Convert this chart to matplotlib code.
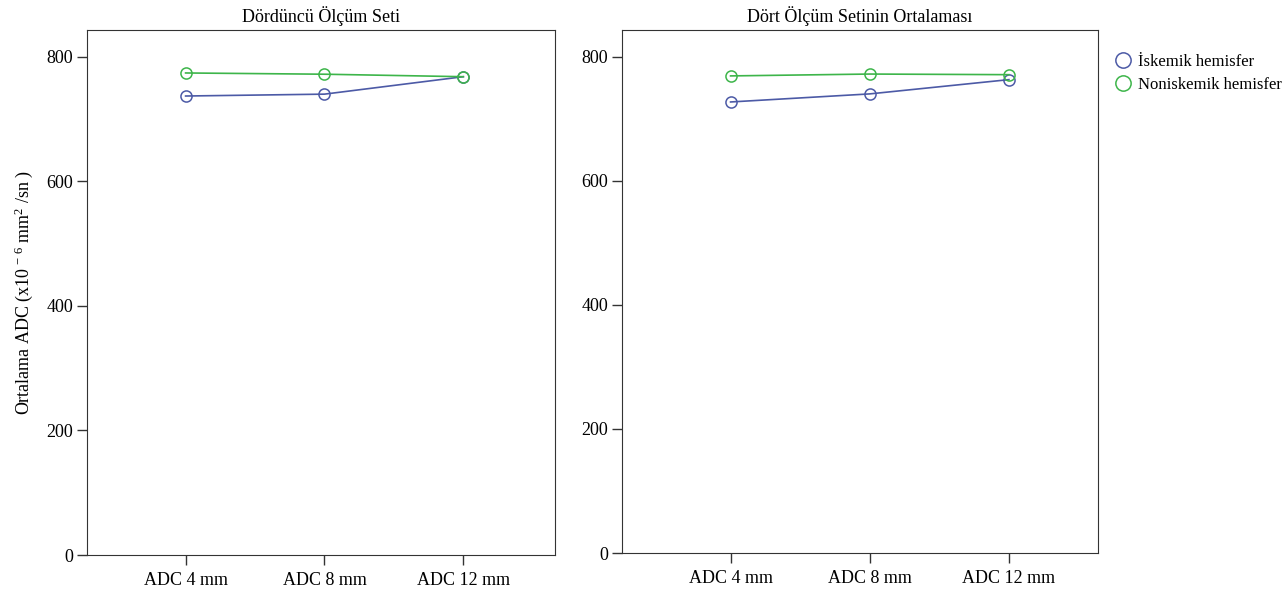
import numpy as np
import matplotlib.pyplot as plt

plt.rcParams['font.family'] = ['Liberation Serif', 'DejaVu Serif']
plt.rcParams['mathtext.fontset'] = 'custom'
plt.rcParams['mathtext.rm'] = 'Liberation Serif'
plt.rcParams['mathtext.it'] = 'Liberation Serif'

categories = ["ADC 4 mm", "ADC 8 mm", "ADC 12 mm"]
series_names = ["İskemik hemisfer", "Noniskemik hemisfer"]

# Dördüncü ölçüm seti
set4_iskemik = [737, 740, 768]
set4_noniskemik = [774, 772, 768]

# Dört ölçüm setinin ortalaması
mean_iskemik = [727, 740, 763]
mean_noniskemik = [769, 772, 771]

blue = "#4c5aa6"
green = "#3db54a"
fs = 13

fig = plt.figure(figsize=(12.84, 5.97), dpi=100)
ax1 = fig.add_axes([87 / 1284, 42 / 597, 468 / 1284, 525 / 597])
ax2 = fig.add_axes([622 / 1284, 44 / 597, 476 / 1284, 523 / 597])

x = np.arange(len(categories))


def draw(ax, iskemik, noniskemik, title, xlim):
    for vals, col, name in [(iskemik, blue, series_names[0]),
                            (noniskemik, green, series_names[1])]:
        ax.plot(x, vals, color=col, lw=1.2, marker="o", ms=8,
                mfc="none", mec=col, mew=1.1, label=name)
    ax.set_xlim(*xlim)
    ax.set_ylim(0, 843)
    ax.set_yticks([0, 200, 400, 600, 800])
    ax.set_xticks(x)
    ax.set_xticklabels(categories)
    ax.tick_params(axis="both", labelsize=fs, direction="out", length=7,
                   width=1, color="#333333", pad=3)
    ax.tick_params(axis="x", pad=5)
    ax.set_title(title, fontsize=fs, pad=6)
    for s in ax.spines.values():
        s.set_color("#333333")


draw(ax1, set4_iskemik, set4_noniskemik, "Dördüncü Ölçüm Seti", (-0.71, 2.66))
draw(ax2, mean_iskemik, mean_noniskemik, "Dört Ölçüm Setinin Ortalaması",
     (-0.78, 2.64))

ax1.set_ylabel(r"Ortalama ADC (x10$^{\,-\,6}$ mm$^{2}$ /sn )", fontsize=fs,
               labelpad=8)

handles = [plt.Line2D([], [], ls="none", marker="o", ms=11, mfc="none",
                      mec=c, mew=1.1) for c in (blue, green)]
fig.legend(handles, series_names, loc="upper left",
           bbox_to_anchor=(1106 / 1284, 1 - 47 / 597), frameon=False,
           fontsize=12, handletextpad=0.3, labelspacing=0.45,
           borderaxespad=0, handlelength=1.2)

fig.savefig("out.png", dpi=100)
